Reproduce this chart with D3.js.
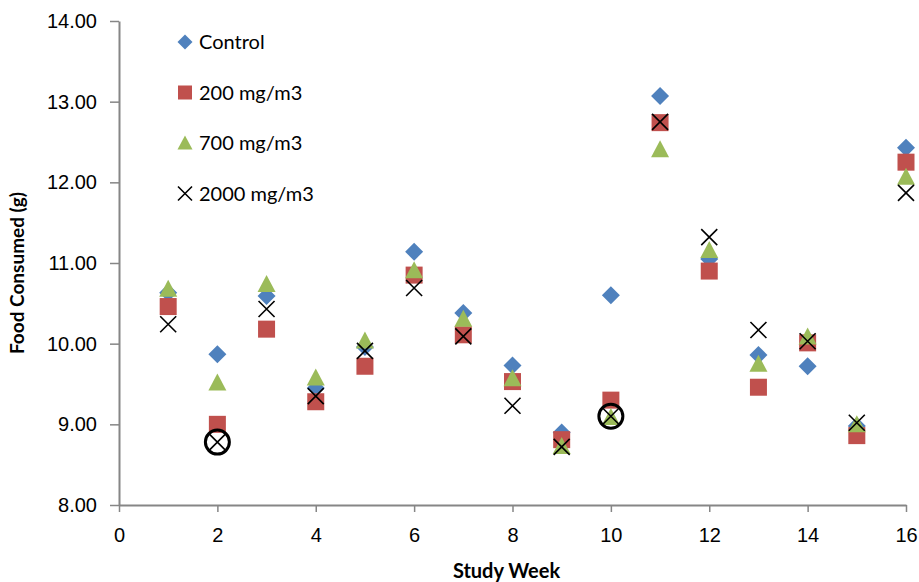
<!DOCTYPE html>
<html>
<head>
<meta charset="utf-8">
<script src="https://cdn.jsdelivr.net/npm/d3@7"></script>
<style>
  body { margin: 0; background: #fff; }
  svg { font-family: Lato, "Open Sans", sans-serif; }
  .axis path, .axis line { stroke: #868686; }
  .axis text { fill: #000; font-size: 20px; }
</style>
</head>
<body>
<svg id="chart" width="919" height="582"></svg>
<script>
// Study weeks 1..16
const weeks = [1, 2, 3, 4, 5, 6, 7, 8, 9, 10, 11, 12, 13, 14, 15, 16];

// Food consumed (g) per group
const control = [10.63, 9.87, 10.59, 9.45, 9.96, 11.14, 10.38, 9.73, 8.90, 10.60, 13.07, 11.05, 9.86, 9.72, 8.98, 12.43];
const dose200 = [10.46, 9.00, 10.18, 9.28, 9.72, 10.85, 10.11, 9.53, 8.81, 9.30, 12.74, 10.90, 9.46, 10.01, 8.86, 12.25];
const dose700 = [10.68, 9.52, 10.74, 9.58, 10.04, 10.91, 10.31, 9.57, 8.73, 9.09, 12.41, 11.16, 9.75, 10.09, 9.00, 12.07];
const dose2000 = [10.24, 8.78, 10.43, 9.35, 9.91, 10.69, 10.09, 9.23, 8.72, 9.10, 12.75, 11.32, 10.17, 10.03, 9.02, 11.87];

// Highlighted (circled) points: [week, value]
const circled = [[2, 8.78], [10, 9.10]];

const series = [
    { name: 'Control', values: control, shape: 'diamond', color: '#4F81BD' },
    { name: '200 mg/m3', values: dose200, shape: 'square', color: '#C0504D' },
    { name: '700 mg/m3', values: dose700, shape: 'triangle', color: '#9BBB59' },
    { name: '2000 mg/m3', values: dose2000, shape: 'cross', color: '#000' }
];

const svg = d3.select('#chart');
const margin = { top: 21, right: 13, bottom: 77, left: 119 };
const width = 919 - margin.left - margin.right;
const height = 582 - margin.top - margin.bottom;

const g = svg.append('g')
    .attr('transform', `translate(${margin.left},${margin.top})`);

const x = d3.scaleLinear().domain([0, 16]).range([0, width]);
const y = d3.scaleLinear().domain([8, 14]).range([height, 0]);

// Axes
g.append('g')
    .attr('class', 'axis')
    .attr('transform', `translate(0,${height})`)
    .call(d3.axisBottom(x).tickValues(d3.range(0, 17, 2)).tickSize(7).tickSizeOuter(0).tickPadding(16));

g.append('g')
    .attr('class', 'axis')
    .call(d3.axisLeft(y).ticks(6).tickFormat(d3.format('.2f')).tickSize(9).tickSizeOuter(0).tickPadding(13));

g.selectAll('.axis path, .axis line').attr('stroke-width', 1.5);
g.selectAll('.axis .domain').attr('stroke-width', 2);

// Axis titles
svg.append('text')
    .attr('x', margin.left + x(8) - 6)
    .attr('y', 578)
    .attr('text-anchor', 'middle')
    .style('font-weight', 'bold')
    .style('font-size', '20px')
    .text('Study Week');

svg.append('text')
    .attr('transform', `translate(24,${margin.top + height / 2 + 10}) rotate(-90)`)
    .attr('text-anchor', 'middle')
    .style('font-weight', 'bold')
    .style('font-size', '19px')
    .text('Food Consumed (g)');

// Marker drawing
function drawMarker(sel, shape, color, size) {
    if (shape === 'diamond') {
        sel.append('path')
            .attr('d', `M0,${-size / 2}L${size / 2},0L0,${size / 2}L${-size / 2},0Z`)
            .attr('fill', color);
    } else if (shape === 'square') {
        sel.append('rect')
            .attr('x', -size / 2 + 0.5).attr('y', -size / 2 + 0.5)
            .attr('width', size - 1).attr('height', size - 1)
            .attr('fill', color);
    } else if (shape === 'triangle') {
        sel.append('path')
            .attr('d', `M0,${-size / 2}L${size / 2},${size / 2 - 1}L${-size / 2},${size / 2 - 1}Z`)
            .attr('fill', color);
    } else {
        const h = size / 2 - 1;
        sel.append('path')
            .attr('d', `M${-h},${-h}L${h},${h}M${h},${-h}L${-h},${h}`)
            .attr('stroke', color)
            .attr('stroke-width', 1.6)
            .attr('fill', 'none');
    }
}

// Points
series.forEach(s => {
    g.append('g')
        .selectAll('g')
        .data(weeks.map((w, i) => [w, s.values[i]]))
        .join('g')
        .attr('transform', d => `translate(${x(d[0])},${y(d[1])})`)
        .each(function () { drawMarker(d3.select(this), s.shape, s.color, 18); });
});

// Circled points
g.append('g')
    .selectAll('circle')
    .data(circled)
    .join('circle')
    .attr('cx', d => x(d[0]))
    .attr('cy', d => y(d[1]))
    .attr('r', 12)
    .attr('fill', 'none')
    .attr('stroke', '#000')
    .attr('stroke-width', 3);

// Legend
const legend = svg.append('g').attr('transform', 'translate(185,42)');
const item = legend.selectAll('g')
    .data(series)
    .join('g')
    .attr('transform', (d, i) => `translate(0,${i * 50.5})`);

item.each(function (d) { drawMarker(d3.select(this), d.shape, d.color, d.shape === 'cross' ? 16 : 15); });

item.append('text')
    .attr('x', 14)
    .attr('y', 7)
    .style('font-size', '20px')
    .text(d => d.name);
</script>
</body>
</html>
